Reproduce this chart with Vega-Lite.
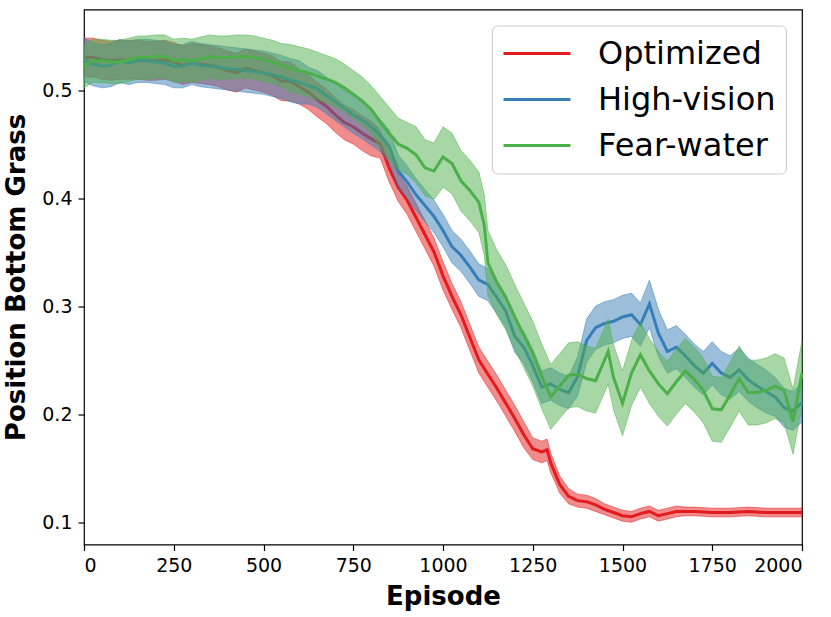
{
  "$schema": "https://vega.github.io/schema/vega-lite/v6.json",
  "width": 718,
  "height": 535,
  "autosize": {"type": "none"},
  "padding": {"left": 84, "top": 9.5, "right": 29, "bottom": 72.5},
  "data": {
    "values": [
      {"s": "Optimized", "e": 0, "m": 0.530, "lo": 0.512, "hi": 0.548},
      {"s": "Optimized", "e": 25, "m": 0.530, "lo": 0.512, "hi": 0.548},
      {"s": "Optimized", "e": 50, "m": 0.528, "lo": 0.510, "hi": 0.546},
      {"s": "Optimized", "e": 75, "m": 0.527, "lo": 0.509, "hi": 0.545},
      {"s": "Optimized", "e": 100, "m": 0.528, "lo": 0.510, "hi": 0.546},
      {"s": "Optimized", "e": 125, "m": 0.528, "lo": 0.510, "hi": 0.546},
      {"s": "Optimized", "e": 150, "m": 0.528, "lo": 0.510, "hi": 0.546},
      {"s": "Optimized", "e": 175, "m": 0.527, "lo": 0.509, "hi": 0.545},
      {"s": "Optimized", "e": 200, "m": 0.527, "lo": 0.509, "hi": 0.545},
      {"s": "Optimized", "e": 225, "m": 0.528, "lo": 0.510, "hi": 0.546},
      {"s": "Optimized", "e": 250, "m": 0.526, "lo": 0.508, "hi": 0.544},
      {"s": "Optimized", "e": 275, "m": 0.523, "lo": 0.505, "hi": 0.541},
      {"s": "Optimized", "e": 300, "m": 0.525, "lo": 0.507, "hi": 0.543},
      {"s": "Optimized", "e": 325, "m": 0.524, "lo": 0.506, "hi": 0.542},
      {"s": "Optimized", "e": 350, "m": 0.523, "lo": 0.505, "hi": 0.541},
      {"s": "Optimized", "e": 375, "m": 0.521, "lo": 0.503, "hi": 0.539},
      {"s": "Optimized", "e": 400, "m": 0.518, "lo": 0.500, "hi": 0.536},
      {"s": "Optimized", "e": 425, "m": 0.516, "lo": 0.498, "hi": 0.534},
      {"s": "Optimized", "e": 450, "m": 0.520, "lo": 0.502, "hi": 0.538},
      {"s": "Optimized", "e": 475, "m": 0.518, "lo": 0.500, "hi": 0.536},
      {"s": "Optimized", "e": 500, "m": 0.516, "lo": 0.498, "hi": 0.534},
      {"s": "Optimized", "e": 525, "m": 0.513, "lo": 0.495, "hi": 0.531},
      {"s": "Optimized", "e": 550, "m": 0.508, "lo": 0.490, "hi": 0.526},
      {"s": "Optimized", "e": 575, "m": 0.508, "lo": 0.490, "hi": 0.526},
      {"s": "Optimized", "e": 600, "m": 0.503, "lo": 0.487, "hi": 0.519},
      {"s": "Optimized", "e": 625, "m": 0.498, "lo": 0.482, "hi": 0.514},
      {"s": "Optimized", "e": 650, "m": 0.491, "lo": 0.475, "hi": 0.507},
      {"s": "Optimized", "e": 675, "m": 0.485, "lo": 0.469, "hi": 0.501},
      {"s": "Optimized", "e": 700, "m": 0.477, "lo": 0.461, "hi": 0.493},
      {"s": "Optimized", "e": 725, "m": 0.470, "lo": 0.454, "hi": 0.486},
      {"s": "Optimized", "e": 750, "m": 0.466, "lo": 0.450, "hi": 0.482},
      {"s": "Optimized", "e": 775, "m": 0.460, "lo": 0.444, "hi": 0.476},
      {"s": "Optimized", "e": 800, "m": 0.455, "lo": 0.439, "hi": 0.471},
      {"s": "Optimized", "e": 825, "m": 0.450, "lo": 0.437, "hi": 0.463},
      {"s": "Optimized", "e": 850, "m": 0.428, "lo": 0.415, "hi": 0.441},
      {"s": "Optimized", "e": 875, "m": 0.410, "lo": 0.397, "hi": 0.423},
      {"s": "Optimized", "e": 900, "m": 0.398, "lo": 0.385, "hi": 0.411},
      {"s": "Optimized", "e": 925, "m": 0.382, "lo": 0.369, "hi": 0.395},
      {"s": "Optimized", "e": 950, "m": 0.366, "lo": 0.353, "hi": 0.379},
      {"s": "Optimized", "e": 975, "m": 0.350, "lo": 0.337, "hi": 0.363},
      {"s": "Optimized", "e": 1000, "m": 0.328, "lo": 0.315, "hi": 0.341},
      {"s": "Optimized", "e": 1025, "m": 0.309, "lo": 0.297, "hi": 0.321},
      {"s": "Optimized", "e": 1050, "m": 0.292, "lo": 0.280, "hi": 0.304},
      {"s": "Optimized", "e": 1075, "m": 0.271, "lo": 0.259, "hi": 0.283},
      {"s": "Optimized", "e": 1100, "m": 0.250, "lo": 0.238, "hi": 0.262},
      {"s": "Optimized", "e": 1125, "m": 0.237, "lo": 0.225, "hi": 0.249},
      {"s": "Optimized", "e": 1150, "m": 0.224, "lo": 0.212, "hi": 0.236},
      {"s": "Optimized", "e": 1175, "m": 0.210, "lo": 0.198, "hi": 0.222},
      {"s": "Optimized", "e": 1200, "m": 0.196, "lo": 0.184, "hi": 0.208},
      {"s": "Optimized", "e": 1225, "m": 0.181, "lo": 0.169, "hi": 0.193},
      {"s": "Optimized", "e": 1250, "m": 0.168, "lo": 0.158, "hi": 0.178},
      {"s": "Optimized", "e": 1275, "m": 0.165, "lo": 0.155, "hi": 0.175},
      {"s": "Optimized", "e": 1290, "m": 0.167, "lo": 0.157, "hi": 0.177},
      {"s": "Optimized", "e": 1300, "m": 0.155, "lo": 0.146, "hi": 0.164},
      {"s": "Optimized", "e": 1325, "m": 0.135, "lo": 0.127, "hi": 0.143},
      {"s": "Optimized", "e": 1350, "m": 0.124, "lo": 0.117, "hi": 0.131},
      {"s": "Optimized", "e": 1375, "m": 0.120, "lo": 0.114, "hi": 0.126},
      {"s": "Optimized", "e": 1400, "m": 0.119, "lo": 0.113, "hi": 0.125},
      {"s": "Optimized", "e": 1425, "m": 0.116, "lo": 0.110, "hi": 0.122},
      {"s": "Optimized", "e": 1450, "m": 0.112, "lo": 0.107, "hi": 0.117},
      {"s": "Optimized", "e": 1475, "m": 0.109, "lo": 0.104, "hi": 0.114},
      {"s": "Optimized", "e": 1500, "m": 0.106, "lo": 0.101, "hi": 0.111},
      {"s": "Optimized", "e": 1525, "m": 0.105, "lo": 0.100, "hi": 0.110},
      {"s": "Optimized", "e": 1550, "m": 0.108, "lo": 0.103, "hi": 0.113},
      {"s": "Optimized", "e": 1575, "m": 0.110, "lo": 0.105, "hi": 0.115},
      {"s": "Optimized", "e": 1600, "m": 0.106, "lo": 0.101, "hi": 0.111},
      {"s": "Optimized", "e": 1625, "m": 0.108, "lo": 0.103, "hi": 0.113},
      {"s": "Optimized", "e": 1650, "m": 0.110, "lo": 0.105, "hi": 0.115},
      {"s": "Optimized", "e": 1675, "m": 0.110, "lo": 0.106, "hi": 0.114},
      {"s": "Optimized", "e": 1700, "m": 0.110, "lo": 0.106, "hi": 0.114},
      {"s": "Optimized", "e": 1750, "m": 0.109, "lo": 0.105, "hi": 0.113},
      {"s": "Optimized", "e": 1800, "m": 0.109, "lo": 0.105, "hi": 0.113},
      {"s": "Optimized", "e": 1850, "m": 0.110, "lo": 0.106, "hi": 0.114},
      {"s": "Optimized", "e": 1900, "m": 0.109, "lo": 0.105, "hi": 0.113},
      {"s": "Optimized", "e": 1950, "m": 0.109, "lo": 0.105, "hi": 0.113},
      {"s": "Optimized", "e": 2000, "m": 0.109, "lo": 0.105, "hi": 0.113},

      {"s": "High-vision", "e": 0, "m": 0.528, "lo": 0.508, "hi": 0.548},
      {"s": "High-vision", "e": 25, "m": 0.524, "lo": 0.504, "hi": 0.544},
      {"s": "High-vision", "e": 50, "m": 0.522, "lo": 0.502, "hi": 0.542},
      {"s": "High-vision", "e": 75, "m": 0.523, "lo": 0.503, "hi": 0.543},
      {"s": "High-vision", "e": 100, "m": 0.527, "lo": 0.507, "hi": 0.547},
      {"s": "High-vision", "e": 125, "m": 0.525, "lo": 0.505, "hi": 0.545},
      {"s": "High-vision", "e": 150, "m": 0.527, "lo": 0.507, "hi": 0.547},
      {"s": "High-vision", "e": 175, "m": 0.527, "lo": 0.507, "hi": 0.547},
      {"s": "High-vision", "e": 200, "m": 0.526, "lo": 0.506, "hi": 0.546},
      {"s": "High-vision", "e": 225, "m": 0.525, "lo": 0.505, "hi": 0.545},
      {"s": "High-vision", "e": 250, "m": 0.522, "lo": 0.502, "hi": 0.542},
      {"s": "High-vision", "e": 275, "m": 0.522, "lo": 0.502, "hi": 0.542},
      {"s": "High-vision", "e": 300, "m": 0.525, "lo": 0.505, "hi": 0.545},
      {"s": "High-vision", "e": 325, "m": 0.523, "lo": 0.503, "hi": 0.543},
      {"s": "High-vision", "e": 350, "m": 0.522, "lo": 0.502, "hi": 0.542},
      {"s": "High-vision", "e": 375, "m": 0.521, "lo": 0.501, "hi": 0.541},
      {"s": "High-vision", "e": 400, "m": 0.520, "lo": 0.500, "hi": 0.540},
      {"s": "High-vision", "e": 425, "m": 0.519, "lo": 0.499, "hi": 0.539},
      {"s": "High-vision", "e": 450, "m": 0.518, "lo": 0.498, "hi": 0.538},
      {"s": "High-vision", "e": 475, "m": 0.517, "lo": 0.497, "hi": 0.537},
      {"s": "High-vision", "e": 500, "m": 0.516, "lo": 0.496, "hi": 0.536},
      {"s": "High-vision", "e": 525, "m": 0.514, "lo": 0.494, "hi": 0.534},
      {"s": "High-vision", "e": 550, "m": 0.512, "lo": 0.492, "hi": 0.532},
      {"s": "High-vision", "e": 575, "m": 0.509, "lo": 0.489, "hi": 0.529},
      {"s": "High-vision", "e": 600, "m": 0.507, "lo": 0.487, "hi": 0.527},
      {"s": "High-vision", "e": 625, "m": 0.504, "lo": 0.487, "hi": 0.521},
      {"s": "High-vision", "e": 650, "m": 0.501, "lo": 0.484, "hi": 0.518},
      {"s": "High-vision", "e": 675, "m": 0.495, "lo": 0.478, "hi": 0.512},
      {"s": "High-vision", "e": 700, "m": 0.489, "lo": 0.472, "hi": 0.506},
      {"s": "High-vision", "e": 725, "m": 0.483, "lo": 0.466, "hi": 0.500},
      {"s": "High-vision", "e": 750, "m": 0.477, "lo": 0.460, "hi": 0.494},
      {"s": "High-vision", "e": 775, "m": 0.472, "lo": 0.455, "hi": 0.489},
      {"s": "High-vision", "e": 800, "m": 0.466, "lo": 0.449, "hi": 0.483},
      {"s": "High-vision", "e": 825, "m": 0.458, "lo": 0.443, "hi": 0.473},
      {"s": "High-vision", "e": 850, "m": 0.448, "lo": 0.433, "hi": 0.463},
      {"s": "High-vision", "e": 875, "m": 0.425, "lo": 0.410, "hi": 0.440},
      {"s": "High-vision", "e": 900, "m": 0.415, "lo": 0.400, "hi": 0.430},
      {"s": "High-vision", "e": 925, "m": 0.403, "lo": 0.388, "hi": 0.418},
      {"s": "High-vision", "e": 950, "m": 0.393, "lo": 0.378, "hi": 0.408},
      {"s": "High-vision", "e": 975, "m": 0.383, "lo": 0.368, "hi": 0.398},
      {"s": "High-vision", "e": 1000, "m": 0.370, "lo": 0.355, "hi": 0.385},
      {"s": "High-vision", "e": 1025, "m": 0.355, "lo": 0.340, "hi": 0.370},
      {"s": "High-vision", "e": 1050, "m": 0.347, "lo": 0.332, "hi": 0.362},
      {"s": "High-vision", "e": 1075, "m": 0.336, "lo": 0.321, "hi": 0.351},
      {"s": "High-vision", "e": 1100, "m": 0.324, "lo": 0.309, "hi": 0.339},
      {"s": "High-vision", "e": 1125, "m": 0.320, "lo": 0.305, "hi": 0.335},
      {"s": "High-vision", "e": 1150, "m": 0.308, "lo": 0.293, "hi": 0.323},
      {"s": "High-vision", "e": 1175, "m": 0.295, "lo": 0.280, "hi": 0.310},
      {"s": "High-vision", "e": 1200, "m": 0.272, "lo": 0.257, "hi": 0.287},
      {"s": "High-vision", "e": 1225, "m": 0.262, "lo": 0.247, "hi": 0.277},
      {"s": "High-vision", "e": 1250, "m": 0.245, "lo": 0.230, "hi": 0.260},
      {"s": "High-vision", "e": 1275, "m": 0.225, "lo": 0.210, "hi": 0.240},
      {"s": "High-vision", "e": 1300, "m": 0.228, "lo": 0.213, "hi": 0.243},
      {"s": "High-vision", "e": 1325, "m": 0.223, "lo": 0.208, "hi": 0.238},
      {"s": "High-vision", "e": 1350, "m": 0.220, "lo": 0.205, "hi": 0.235},
      {"s": "High-vision", "e": 1375, "m": 0.235, "lo": 0.217, "hi": 0.253},
      {"s": "High-vision", "e": 1400, "m": 0.268, "lo": 0.248, "hi": 0.288},
      {"s": "High-vision", "e": 1425, "m": 0.280, "lo": 0.260, "hi": 0.300},
      {"s": "High-vision", "e": 1450, "m": 0.284, "lo": 0.264, "hi": 0.304},
      {"s": "High-vision", "e": 1475, "m": 0.286, "lo": 0.266, "hi": 0.306},
      {"s": "High-vision", "e": 1500, "m": 0.290, "lo": 0.270, "hi": 0.310},
      {"s": "High-vision", "e": 1525, "m": 0.292, "lo": 0.272, "hi": 0.312},
      {"s": "High-vision", "e": 1550, "m": 0.283, "lo": 0.263, "hi": 0.303},
      {"s": "High-vision", "e": 1575, "m": 0.302, "lo": 0.280, "hi": 0.324},
      {"s": "High-vision", "e": 1600, "m": 0.275, "lo": 0.253, "hi": 0.297},
      {"s": "High-vision", "e": 1625, "m": 0.258, "lo": 0.238, "hi": 0.278},
      {"s": "High-vision", "e": 1650, "m": 0.262, "lo": 0.242, "hi": 0.282},
      {"s": "High-vision", "e": 1675, "m": 0.254, "lo": 0.234, "hi": 0.274},
      {"s": "High-vision", "e": 1700, "m": 0.245, "lo": 0.225, "hi": 0.265},
      {"s": "High-vision", "e": 1725, "m": 0.238, "lo": 0.218, "hi": 0.258},
      {"s": "High-vision", "e": 1750, "m": 0.247, "lo": 0.227, "hi": 0.267},
      {"s": "High-vision", "e": 1775, "m": 0.238, "lo": 0.218, "hi": 0.258},
      {"s": "High-vision", "e": 1800, "m": 0.234, "lo": 0.214, "hi": 0.254},
      {"s": "High-vision", "e": 1825, "m": 0.241, "lo": 0.221, "hi": 0.261},
      {"s": "High-vision", "e": 1850, "m": 0.232, "lo": 0.212, "hi": 0.252},
      {"s": "High-vision", "e": 1875, "m": 0.226, "lo": 0.206, "hi": 0.246},
      {"s": "High-vision", "e": 1900, "m": 0.221, "lo": 0.201, "hi": 0.241},
      {"s": "High-vision", "e": 1925, "m": 0.216, "lo": 0.198, "hi": 0.234},
      {"s": "High-vision", "e": 1950, "m": 0.206, "lo": 0.188, "hi": 0.224},
      {"s": "High-vision", "e": 1975, "m": 0.203, "lo": 0.185, "hi": 0.221},
      {"s": "High-vision", "e": 2000, "m": 0.211, "lo": 0.193, "hi": 0.229},

      {"s": "Fear-water", "e": 0, "m": 0.522, "lo": 0.502, "hi": 0.542},
      {"s": "Fear-water", "e": 25, "m": 0.527, "lo": 0.507, "hi": 0.547},
      {"s": "Fear-water", "e": 50, "m": 0.527, "lo": 0.507, "hi": 0.547},
      {"s": "Fear-water", "e": 75, "m": 0.526, "lo": 0.506, "hi": 0.546},
      {"s": "Fear-water", "e": 100, "m": 0.526, "lo": 0.506, "hi": 0.546},
      {"s": "Fear-water", "e": 125, "m": 0.528, "lo": 0.508, "hi": 0.548},
      {"s": "Fear-water", "e": 150, "m": 0.530, "lo": 0.510, "hi": 0.550},
      {"s": "Fear-water", "e": 175, "m": 0.530, "lo": 0.510, "hi": 0.550},
      {"s": "Fear-water", "e": 200, "m": 0.531, "lo": 0.511, "hi": 0.551},
      {"s": "Fear-water", "e": 225, "m": 0.531, "lo": 0.511, "hi": 0.551},
      {"s": "Fear-water", "e": 250, "m": 0.527, "lo": 0.507, "hi": 0.547},
      {"s": "Fear-water", "e": 275, "m": 0.528, "lo": 0.508, "hi": 0.548},
      {"s": "Fear-water", "e": 300, "m": 0.527, "lo": 0.507, "hi": 0.547},
      {"s": "Fear-water", "e": 325, "m": 0.529, "lo": 0.509, "hi": 0.549},
      {"s": "Fear-water", "e": 350, "m": 0.531, "lo": 0.511, "hi": 0.551},
      {"s": "Fear-water", "e": 375, "m": 0.530, "lo": 0.510, "hi": 0.550},
      {"s": "Fear-water", "e": 400, "m": 0.530, "lo": 0.510, "hi": 0.550},
      {"s": "Fear-water", "e": 425, "m": 0.531, "lo": 0.511, "hi": 0.551},
      {"s": "Fear-water", "e": 450, "m": 0.531, "lo": 0.511, "hi": 0.551},
      {"s": "Fear-water", "e": 475, "m": 0.530, "lo": 0.510, "hi": 0.550},
      {"s": "Fear-water", "e": 500, "m": 0.528, "lo": 0.508, "hi": 0.548},
      {"s": "Fear-water", "e": 525, "m": 0.526, "lo": 0.506, "hi": 0.546},
      {"s": "Fear-water", "e": 550, "m": 0.523, "lo": 0.503, "hi": 0.543},
      {"s": "Fear-water", "e": 575, "m": 0.520, "lo": 0.498, "hi": 0.542},
      {"s": "Fear-water", "e": 600, "m": 0.518, "lo": 0.496, "hi": 0.540},
      {"s": "Fear-water", "e": 625, "m": 0.516, "lo": 0.494, "hi": 0.538},
      {"s": "Fear-water", "e": 650, "m": 0.513, "lo": 0.491, "hi": 0.535},
      {"s": "Fear-water", "e": 675, "m": 0.510, "lo": 0.488, "hi": 0.532},
      {"s": "Fear-water", "e": 700, "m": 0.507, "lo": 0.485, "hi": 0.529},
      {"s": "Fear-water", "e": 725, "m": 0.502, "lo": 0.480, "hi": 0.524},
      {"s": "Fear-water", "e": 750, "m": 0.496, "lo": 0.474, "hi": 0.518},
      {"s": "Fear-water", "e": 775, "m": 0.490, "lo": 0.468, "hi": 0.512},
      {"s": "Fear-water", "e": 800, "m": 0.482, "lo": 0.460, "hi": 0.504},
      {"s": "Fear-water", "e": 825, "m": 0.470, "lo": 0.446, "hi": 0.494},
      {"s": "Fear-water", "e": 850, "m": 0.460, "lo": 0.436, "hi": 0.484},
      {"s": "Fear-water", "e": 875, "m": 0.450, "lo": 0.426, "hi": 0.474},
      {"s": "Fear-water", "e": 900, "m": 0.446, "lo": 0.422, "hi": 0.470},
      {"s": "Fear-water", "e": 925, "m": 0.440, "lo": 0.414, "hi": 0.466},
      {"s": "Fear-water", "e": 950, "m": 0.428, "lo": 0.402, "hi": 0.454},
      {"s": "Fear-water", "e": 975, "m": 0.425, "lo": 0.399, "hi": 0.451},
      {"s": "Fear-water", "e": 1000, "m": 0.438, "lo": 0.410, "hi": 0.466},
      {"s": "Fear-water", "e": 1025, "m": 0.432, "lo": 0.404, "hi": 0.460},
      {"s": "Fear-water", "e": 1050, "m": 0.416, "lo": 0.388, "hi": 0.444},
      {"s": "Fear-water", "e": 1075, "m": 0.407, "lo": 0.379, "hi": 0.435},
      {"s": "Fear-water", "e": 1100, "m": 0.396, "lo": 0.368, "hi": 0.424},
      {"s": "Fear-water", "e": 1115, "m": 0.375, "lo": 0.347, "hi": 0.403},
      {"s": "Fear-water", "e": 1125, "m": 0.340, "lo": 0.310, "hi": 0.370},
      {"s": "Fear-water", "e": 1150, "m": 0.322, "lo": 0.292, "hi": 0.352},
      {"s": "Fear-water", "e": 1175, "m": 0.308, "lo": 0.278, "hi": 0.338},
      {"s": "Fear-water", "e": 1200, "m": 0.290, "lo": 0.260, "hi": 0.320},
      {"s": "Fear-water", "e": 1225, "m": 0.273, "lo": 0.243, "hi": 0.303},
      {"s": "Fear-water", "e": 1250, "m": 0.256, "lo": 0.226, "hi": 0.286},
      {"s": "Fear-water", "e": 1275, "m": 0.235, "lo": 0.205, "hi": 0.265},
      {"s": "Fear-water", "e": 1300, "m": 0.216, "lo": 0.186, "hi": 0.246},
      {"s": "Fear-water", "e": 1325, "m": 0.226, "lo": 0.196, "hi": 0.256},
      {"s": "Fear-water", "e": 1350, "m": 0.236, "lo": 0.206, "hi": 0.266},
      {"s": "Fear-water", "e": 1375, "m": 0.237, "lo": 0.207, "hi": 0.267},
      {"s": "Fear-water", "e": 1400, "m": 0.233, "lo": 0.203, "hi": 0.263},
      {"s": "Fear-water", "e": 1425, "m": 0.231, "lo": 0.201, "hi": 0.261},
      {"s": "Fear-water", "e": 1450, "m": 0.250, "lo": 0.220, "hi": 0.280},
      {"s": "Fear-water", "e": 1460, "m": 0.258, "lo": 0.228, "hi": 0.288},
      {"s": "Fear-water", "e": 1475, "m": 0.234, "lo": 0.204, "hi": 0.264},
      {"s": "Fear-water", "e": 1500, "m": 0.210, "lo": 0.180, "hi": 0.240},
      {"s": "Fear-water", "e": 1525, "m": 0.238, "lo": 0.208, "hi": 0.268},
      {"s": "Fear-water", "e": 1550, "m": 0.255, "lo": 0.225, "hi": 0.285},
      {"s": "Fear-water", "e": 1575, "m": 0.240, "lo": 0.210, "hi": 0.270},
      {"s": "Fear-water", "e": 1600, "m": 0.228, "lo": 0.198, "hi": 0.258},
      {"s": "Fear-water", "e": 1625, "m": 0.219, "lo": 0.189, "hi": 0.249},
      {"s": "Fear-water", "e": 1650, "m": 0.230, "lo": 0.200, "hi": 0.260},
      {"s": "Fear-water", "e": 1675, "m": 0.240, "lo": 0.210, "hi": 0.270},
      {"s": "Fear-water", "e": 1700, "m": 0.232, "lo": 0.202, "hi": 0.262},
      {"s": "Fear-water", "e": 1725, "m": 0.222, "lo": 0.192, "hi": 0.252},
      {"s": "Fear-water", "e": 1750, "m": 0.205, "lo": 0.175, "hi": 0.235},
      {"s": "Fear-water", "e": 1775, "m": 0.204, "lo": 0.174, "hi": 0.234},
      {"s": "Fear-water", "e": 1800, "m": 0.218, "lo": 0.188, "hi": 0.248},
      {"s": "Fear-water", "e": 1825, "m": 0.233, "lo": 0.203, "hi": 0.263},
      {"s": "Fear-water", "e": 1850, "m": 0.220, "lo": 0.190, "hi": 0.250},
      {"s": "Fear-water", "e": 1875, "m": 0.220, "lo": 0.190, "hi": 0.250},
      {"s": "Fear-water", "e": 1900, "m": 0.222, "lo": 0.192, "hi": 0.252},
      {"s": "Fear-water", "e": 1925, "m": 0.226, "lo": 0.196, "hi": 0.256},
      {"s": "Fear-water", "e": 1950, "m": 0.222, "lo": 0.192, "hi": 0.252},
      {"s": "Fear-water", "e": 1975, "m": 0.193, "lo": 0.163, "hi": 0.223},
      {"s": "Fear-water", "e": 2000, "m": 0.238, "lo": 0.208, "hi": 0.268}
    ]
  },
  "encoding": {
    "x": {
      "field": "e",
      "type": "quantitative",
      "title": "Episode",
      "scale": {"domain": [0, 2000], "nice": false},
      "axis": {"values": [0, 250, 500, 750, 1000, 1250, 1500, 1750, 2000], "format": "d"}
    }
  },
  "layer": [
    {
      "transform": [{"filter": "datum.s === 'Optimized'"}],
      "mark": {"type": "area", "color": "#e41a1c", "fillOpacity": 0.5, "stroke": "#e41a1c", "strokeOpacity": 0.5, "strokeWidth": 1},
      "encoding": {
        "y": {"field": "lo", "type": "quantitative", "title": "Position Bottom Grass", "scale": {"domain": [0.0794, 0.5745], "nice": false, "zero": false}, "axis": {"values": [0.1, 0.2, 0.3, 0.4, 0.5], "format": ".1f"}},
        "y2": {"field": "hi"}
      }
    },
    {
      "transform": [{"filter": "datum.s === 'Optimized'"}],
      "mark": {"type": "line", "strokeWidth": 3},
      "encoding": {
        "y": {"field": "m", "type": "quantitative", "title": "Position Bottom Grass"},
        "color": {"field": "s", "type": "nominal"}
      }
    },
    {
      "transform": [{"filter": "datum.s === 'High-vision'"}],
      "mark": {"type": "area", "color": "#377eb8", "fillOpacity": 0.5, "stroke": "#377eb8", "strokeOpacity": 0.5, "strokeWidth": 1},
      "encoding": {
        "y": {"field": "lo", "type": "quantitative", "title": "Position Bottom Grass"},
        "y2": {"field": "hi"}
      }
    },
    {
      "transform": [{"filter": "datum.s === 'High-vision'"}],
      "mark": {"type": "line", "strokeWidth": 3},
      "encoding": {
        "y": {"field": "m", "type": "quantitative", "title": "Position Bottom Grass"},
        "color": {"field": "s", "type": "nominal"}
      }
    },
    {
      "transform": [{"filter": "datum.s === 'Fear-water'"}],
      "mark": {"type": "area", "color": "#4daf4a", "fillOpacity": 0.5, "stroke": "#4daf4a", "strokeOpacity": 0.5, "strokeWidth": 1},
      "encoding": {
        "y": {"field": "lo", "type": "quantitative", "title": "Position Bottom Grass"},
        "y2": {"field": "hi"}
      }
    },
    {
      "transform": [{"filter": "datum.s === 'Fear-water'"}],
      "mark": {"type": "line", "strokeWidth": 3},
      "encoding": {
        "y": {"field": "m", "type": "quantitative", "title": "Position Bottom Grass"},
        "color": {
          "field": "s",
          "type": "nominal",
          "scale": {"domain": ["Optimized", "High-vision", "Fear-water"], "range": ["#e41a1c", "#377eb8", "#4daf4a"]},
          "legend": {
            "title": null,
            "orient": "top-right",
            "offset": 16,
            "symbolType": "stroke",
            "symbolSize": 4489,
            "symbolStrokeWidth": 3,
            "labelFontSize": 32,
            "labelLimit": 0,
            "labelOffset": 26,
            "clipHeight": 36,
            "rowPadding": 10,
            "padding": 10,
            "fillColor": "white",
            "strokeColor": "#cccccc",
            "cornerRadius": 5
          }
        }
      }
    }
  ],
  "config": {
    "font": "DejaVu Sans",
    "view": {"stroke": "black", "strokeWidth": 1.2},
    "axis": {
      "grid": false,
      "domain": false,
      "labelFont": "DejaVu Sans",
      "labelFontSize": 19,
      "labelColor": "black",
      "tickColor": "black",
      "tickSize": 6,
      "tickWidth": 1.2,
      "labelPadding": 6,
      "titleFont": "DejaVu Sans",
      "titleFontSize": 26,
      "titleFontWeight": "bold",
      "titleColor": "black"
    },
    "axisX": {"titlePadding": 8},
    "axisY": {"titlePadding": 12},
    "legend": {"labelFont": "DejaVu Sans", "labelColor": "black"}
  }
}
